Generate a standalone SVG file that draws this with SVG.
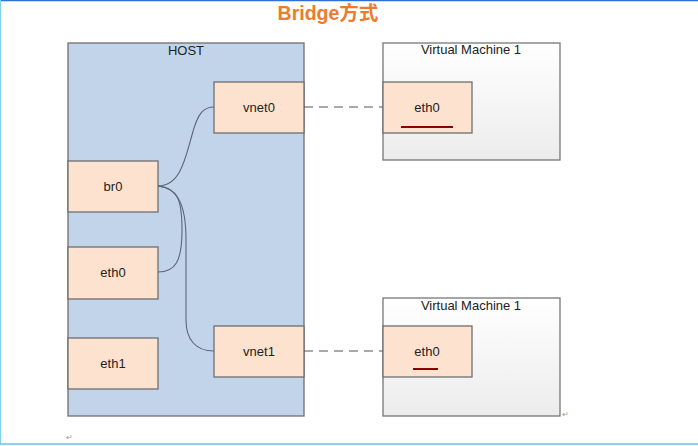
<svg xmlns="http://www.w3.org/2000/svg" width="698" height="446" viewBox="0 0 698 446">
<defs>
<linearGradient id="vmg" x1="0" y1="0" x2="0" y2="1">
<stop offset="0" stop-color="#ffffff"/>
<stop offset="1" stop-color="#ececec"/>
</linearGradient>
<style>
.lbl{font-family:"Liberation Sans",Arial,sans-serif;font-size:13px;fill:#222;text-anchor:middle}
.nic{fill:#fde3cf;stroke:#6f6f6f;stroke-width:1.3}
.vm{fill:url(#vmg);stroke:#777;stroke-width:1.3}
.wire{fill:none;stroke:#5b6677;stroke-width:1.1}
.dash{fill:none;stroke:#555;stroke-width:1;stroke-dasharray:9,6}
.ul{stroke:#8b0000;stroke-width:2}
.mark{font-family:"Liberation Sans",Arial,sans-serif;font-size:8px;fill:#999}
</style>
</defs>
<rect x="0" y="0" width="698" height="446" fill="#ffffff"/>
<line x1="0" y1="0.5" x2="698" y2="0.5" stroke="#2f6fd6" stroke-width="1.5"/>
<line x1="0.5" y1="0" x2="0.5" y2="444" stroke="#7fd0ea" stroke-width="1"/>
<line x1="0" y1="444" x2="698" y2="444" stroke="#5cc6e8" stroke-width="1.5"/>
<text x="328" y="20" font-family="'Liberation Sans','Noto Sans CJK SC',sans-serif" font-size="19.5" font-weight="bold" fill="#ec7c2c" text-anchor="middle">Bridge方式</text>

<g id="host">
<rect x="68" y="43" width="236" height="373" fill="#c2d4ea" stroke="#6f6f6f" stroke-width="1.3"/>
<text class="lbl" x="186" y="55">HOST</text>
</g>
<g id="br0"><rect class="nic" x="68" y="161" width="90" height="51"/><text class="lbl" x="113" y="191">br0</text></g>
<g id="eth0-host"><rect class="nic" x="68" y="247" width="90" height="52"/><text class="lbl" x="113" y="277">eth0</text></g>
<g id="eth1-host"><rect class="nic" x="68" y="338" width="90" height="51"/><text class="lbl" x="113" y="368">eth1</text></g>
<g id="vnet0"><rect class="nic" x="214" y="82" width="90" height="51"/><text class="lbl" x="259" y="112">vnet0</text></g>
<g id="vnet1"><rect class="nic" x="214" y="326" width="90" height="51"/><text class="lbl" x="259" y="356">vnet1</text></g>

<g id="vm1">
<rect class="vm" x="383" y="43" width="177" height="117"/>
<text class="lbl" x="471" y="54">Virtual Machine 1</text>
<rect class="nic" x="383" y="82" width="89" height="51"/>
<text class="lbl" x="427" y="112">eth0</text>
<line class="ul" x1="401" y1="127" x2="453" y2="127"/>
</g>
<g id="vm2">
<rect class="vm" x="383" y="298" width="177" height="118"/>
<text class="lbl" x="471" y="310">Virtual Machine 1</text>
<rect class="nic" x="383" y="326" width="89" height="51"/>
<text class="lbl" x="427" y="356">eth0</text>
<line class="ul" x1="413" y1="369" x2="438" y2="369"/>
</g>

<g id="connectors">
<path class="wire" d="M158,186 C180,186 185,160 192,135 C198,112 204,107 214,107"/>
<path class="wire" d="M158,186 C178,188 182,200 182,230 C182,262 175,272 158,272"/>
<path class="wire" d="M158,186 C178,188 186,205 186,240 L186,320 C186,340 196,351 214,351"/>
<line class="dash" x1="304" y1="107" x2="383" y2="107"/>
<line class="dash" x1="304" y1="351" x2="383" y2="351"/>
</g>
<text class="mark" x="66" y="440">↵</text>
<text class="mark" x="562" y="417">↵</text>
</svg>
